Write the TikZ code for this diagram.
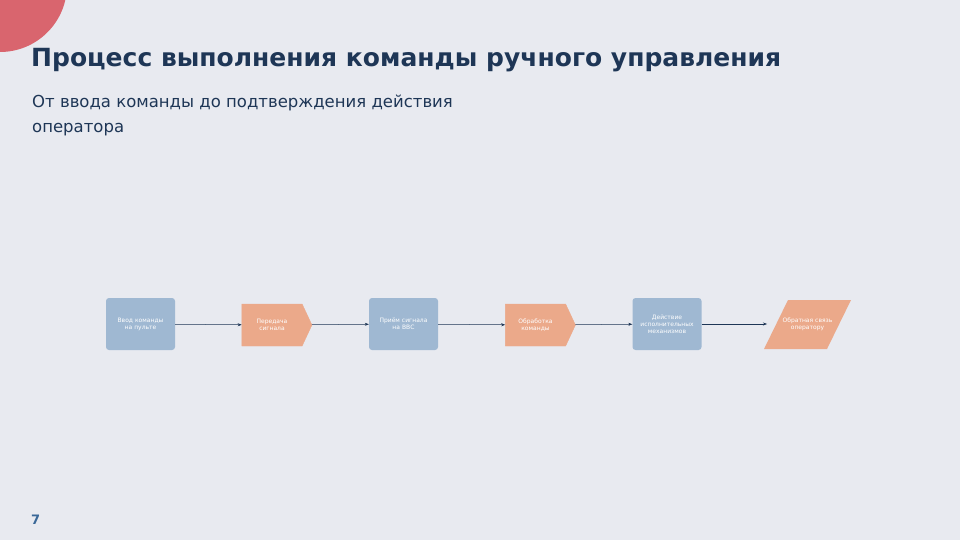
\documentclass[tikz,border=0pt]{standalone}
\usepackage{fontspec}
\setmainfont{DejaVu Sans}
\usetikzlibrary{shapes.geometric,shapes.symbols,arrows.meta}
\definecolor{bg}{HTML}{E8EAF0}
\definecolor{navy}{HTML}{1E3656}
\definecolor{bluebox}{HTML}{9FB8D2}
\definecolor{orbox}{HTML}{EBA98A}
\definecolor{pinkc}{HTML}{D9656E}
\definecolor{pnum}{HTML}{3A6898}
\begin{document}
\begin{tikzpicture}[x=1pt,y=-1pt,
  box/.style={fill=bluebox,rounded corners=3pt,minimum width=69pt,minimum height=52pt,text width=60pt,align=center,font=\fontsize{6}{7}\selectfont,text=white,inner sep=1pt},
  arr/.style={draw=orbox,fill=orbox,signal,signal to=east,signal pointer angle=130,minimum width=70pt,minimum height=42pt,text width=56pt,align=center,font=\fontsize{6}{7}\selectfont,text=white,inner sep=1pt},
  para/.style={minimum width=66pt,minimum height=49pt,text width=56pt,align=center,font=\fontsize{6}{7}\selectfont,text=white,inner sep=1pt},
  con/.style={draw=navy,-{Stealth[length=4pt,width=3pt]},line width=0.5pt}]
\useasboundingbox (0,0) rectangle (960,540);
\fill[bg] (0,0) rectangle (960,540);
\begin{scope}
\clip (0,0) rectangle (960,540);
\fill[pinkc] (0,-15) circle (67);
\end{scope}
\node[anchor=west,text=navy,font=\bfseries\fontsize{25}{30}\selectfont,inner sep=0pt] (t) at (31,60) {Процесс выполнения команды ручного управления};
\node[anchor=north west,text=navy,align=left,font=\fontsize{16.5}{25}\selectfont,inner sep=0pt] (s) at (32,95) {От ввода команды до подтверждения действия\\оператора};
\node[anchor=west,text=pnum,font=\bfseries\fontsize{13}{15}\selectfont,inner sep=0pt] (p) at (31,520) {7};
\node[box] (a) at (140.5,324) {Ввод команды на пульте};
\node[arr] (b) at (272,325) {Передача сигнала};
\node[box] (c) at (403.5,324) {Приём сигнала на ВВС};
\node[arr] (d) at (535.5,325) {Обработка команды};
\node[box] (e) at (667,324) {Действие исполнительных механизмов};
\fill[orbox] (764,349) -- (788,300) -- (851,300) -- (827,349) -- cycle;
\node[para] (f) at (807.5,324.5) {Обратная связь оператору};
\coordinate (fin) at (767,324);
\draw[con] (a) -- (b);
\draw[con] (b) -- (c);
\draw[con] (c) -- (d);
\draw[con] (d) -- (e);
\draw[con] (e.east) -- (fin);
\end{tikzpicture}
\end{document}
